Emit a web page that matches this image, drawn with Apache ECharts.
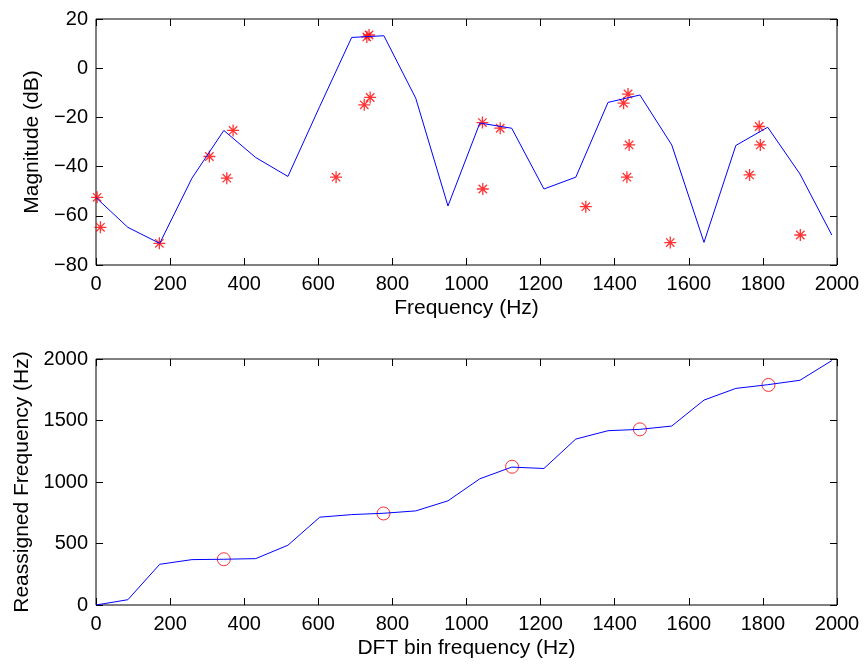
<!DOCTYPE html>
<html>
<head>
<meta charset="utf-8">
<script src="https://cdn.jsdelivr.net/npm/echarts@6/dist/echarts.min.js"></script>
<style>
html,body{margin:0;padding:0;background:#fff;}
#chart{width:865px;height:664px;}
</style>
</head>
<body>
<div id="chart"></div>
<script>
// DFT bin frequencies (Hz)
const binFreq = [0, 86, 172, 259, 345, 431, 518, 604, 690, 777, 863, 950, 1036, 1122, 1209, 1295, 1382, 1468, 1554, 1641, 1727, 1813, 1900, 1986];
// Spectrum magnitude (dB)
const magnitude = [-52.6, -64.7, -71.2, -44.7, -25.3, -36.3, -44.0, -15.5, 12.5, 13.2, -12.2, -56.0, -22.3, -24.4, -49.1, -44.3, -13.9, -10.9, -31.2, -70.8, -31.4, -24.0, -43.0, -67.8];
// Reassigned frequency points (Hz, dB)
const reassignedX = [3, 12, 171, 306, 353, 370, 648, 724, 740, 731, 737, 1043, 1044, 1091, 1322, 1424, 1436, 1433, 1439, 1550, 1764, 1790, 1793, 1901];
const reassignedDb = [-52.5, -64.7, -71.2, -35.9, -44.7, -25.3, -44.3, -14.9, -11.9, 12.7, 13.5, -22.1, -49.1, -24.4, -56.3, -14.2, -10.5, -44.3, -31.2, -70.9, -43.4, -23.7, -31.2, -67.8];
// Reassigned frequency vs bin frequency
const reassignedFreq = [0, 43, 331, 369, 372, 377, 486, 714, 735, 746, 765, 847, 1026, 1121, 1110, 1349, 1417, 1428, 1455, 1666, 1761, 1791, 1827, 1987];
// Highlighted peaks (bin freq, reassigned freq)
const peakX = [345, 776, 1123, 1468, 1815];
const peakY = [372, 744, 1124, 1428, 1789];

const xTicks = [0, 200, 400, 600, 800, 1000, 1200, 1400, 1600, 1800, 2000];
const magTicks = [-80, -60, -40, -20, 0, 20];
const freqTicks = [0, 500, 1000, 1500, 2000];

const FONT = 'Liberation Sans, Arial, Helvetica, sans-serif';
const FS = 20;
const NFS = 21;
const chart = echarts.init(document.getElementById('chart'), null, {renderer: 'canvas'});

const grids = [
  {left: 96, top: 19, width: 741, height: 246, show: true, borderColor: '#000', borderWidth: 1, backgroundColor: 'transparent'},
  {left: 96, top: 359, width: 741, height: 246, show: true, borderColor: '#000', borderWidth: 1, backgroundColor: 'transparent'}
];

function fmt(v){ return String(v).replace('-', '\u2212'); }

function mainX(gi, name){
  return {
    type: 'value', gridIndex: gi, min: xTicks[0], max: xTicks[xTicks.length-1], interval: 200,
    position: 'bottom',
    name: name, nameLocation: 'middle', nameGap: 33,
    nameTextStyle: {fontFamily: FONT, fontSize: NFS, color: '#000'},
    axisLine: {show: false, onZero: false},
    axisTick: {show: true, inside: true, length: 7, lineStyle: {color: '#000', width: 1}},
    axisLabel: {fontFamily: FONT, fontSize: FS, color: '#000', margin: 9, formatter: fmt},
    splitLine: {show: false}
  };
}
function topX(gi){
  return {
    type: 'value', gridIndex: gi, min: 0, max: 2000, interval: 200, position: 'top',
    axisLine: {show: false, onZero: false},
    axisTick: {show: true, inside: true, length: 7, lineStyle: {color: '#000', width: 1}},
    axisLabel: {show: false}, splitLine: {show: false}
  };
}
function mainY(gi, min, max, interval, name, gap){
  return {
    type: 'value', gridIndex: gi, min: min, max: max, interval: interval, position: 'left',
    name: name, nameLocation: 'middle', nameGap: gap,
    nameTextStyle: {fontFamily: FONT, fontSize: NFS, color: '#000'},
    axisLine: {show: false, onZero: false},
    axisTick: {show: true, inside: true, length: 7, lineStyle: {color: '#000', width: 1}},
    axisLabel: {fontFamily: FONT, fontSize: FS, color: '#000', margin: 8, formatter: fmt},
    splitLine: {show: false}
  };
}
function rightY(gi, min, max, interval){
  return {
    type: 'value', gridIndex: gi, min: min, max: max, interval: interval, position: 'right',
    axisLine: {show: false, onZero: false},
    axisTick: {show: true, inside: true, length: 7, lineStyle: {color: '#000', width: 1}},
    axisLabel: {show: false}, splitLine: {show: false}
  };
}

const asterisk = 'path://M0,5 L10,5 M5,0 L5,10 M1.5,1.5 L8.5,8.5 M8.5,1.5 L1.5,8.5';

chart.setOption({
  animation: false,
  backgroundColor: '#fff',
  grid: grids,
  xAxis: [mainX(0, 'Frequency (Hz)'), topX(0), mainX(1, 'DFT bin frequency (Hz)'), topX(1)],
  yAxis: [
    mainY(0, magTicks[0], magTicks[magTicks.length-1], 20, 'Magnitude (dB)', 52),
    rightY(0, -80, 20, 20),
    mainY(1, freqTicks[0], freqTicks[freqTicks.length-1], 500, 'Reassigned Frequency (Hz)', 63),
    rightY(1, 0, 2000, 500)
  ],
  series: [
    {
      type: 'line', xAxisIndex: 0, yAxisIndex: 0,
      data: binFreq.map((f, i) => [f, magnitude[i]]),
      symbol: 'none', lineStyle: {color: '#0000ff', width: 1}, itemStyle: {color: '#0000ff'}
    },
    {
      type: 'scatter', xAxisIndex: 0, yAxisIndex: 0,
      data: reassignedX.map((f, i) => [f, reassignedDb[i]]),
      symbol: asterisk, symbolSize: 12,
      itemStyle: {color: 'none', borderColor: '#ff0000', borderWidth: 1.3}
    },
    {
      type: 'line', xAxisIndex: 2, yAxisIndex: 2,
      data: binFreq.map((f, i) => [f, reassignedFreq[i]]),
      symbol: 'none', lineStyle: {color: '#0000ff', width: 1}, itemStyle: {color: '#0000ff'}
    },
    {
      type: 'scatter', xAxisIndex: 2, yAxisIndex: 2,
      data: peakX.map((f, i) => [f, peakY[i]]),
      symbol: 'circle', symbolSize: 13,
      itemStyle: {color: 'none', borderColor: '#ff0000', borderWidth: 1}
    }
  ]
});
</script>
</body>
</html>
